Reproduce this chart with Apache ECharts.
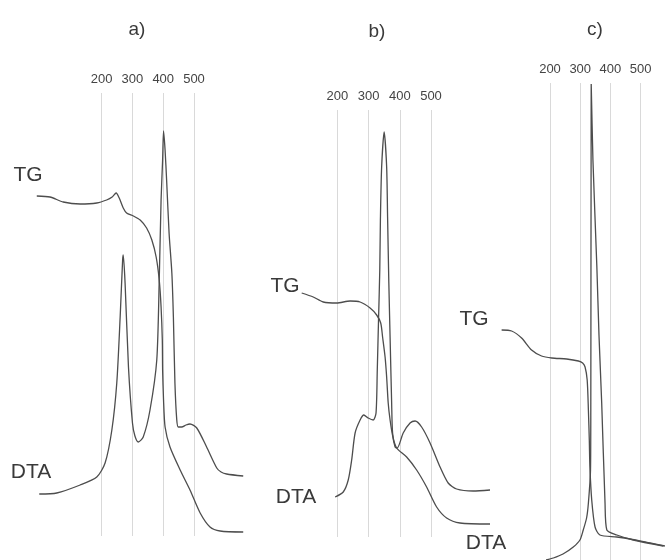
<!DOCTYPE html>
<html>
<head>
<meta charset="utf-8">
<title>TG / DTA</title>
<script src="https://cdn.jsdelivr.net/npm/echarts@6/dist/echarts.min.js"></script>
<style>
  html, body { margin: 0; padding: 0; background: #fff; }
  #chart { width: 665px; height: 560px; }
</style>
</head>
<body>
<div id="chart"></div>
<script>
// Temperature marks (°C) shown above each panel
const tempTicks = [200, 300, 400, 500];
const panelNames = ['a)', 'b)', 'c)'];

// Panel a) — [temperature °C, signal (arb. units)]
const tgA = [[-11,340],[32,339],[75,334],[130,332],[184,333],[216,336],[234,339],[247,343],[257,338],[270,328],[281,323],[303,320],[325,316],[346,308],[363,296],[377,279],[387,256],[393,229],[397,196],[398,166],[401,136],[406,109],[422,89],[455,66],[487,46],[520,23],[552,9],[585,5],[660,4]];
const dtaA = [[-3,42],[54,43],[130,51],[184,59],[211,73],[233,106],[249,153],[260,219],[268,276],[270,281],[276,253],[287,169],[300,113],[308,100],[319,94],[335,99],[357,126],[379,176],[387,256],[393,336],[398,376],[401,405],[406,386],[411,356],[419,303],[428,263],[433,219],[438,153],[444,116],[449,109],[460,109],[474,111],[487,112],[509,108],[541,89],[574,68],[588,64],[606,62],[660,60]];

// Panel b)
const tgB = [[86,244],[123,240],[155,235],[198,234],[241,236],[273,235],[305,229],[326,222],[339,214],[345,200],[353,180],[358,160],[363,134],[369,117],[378,100],[390,89],[422,80],[454,67],[486,50],[518,30],[550,19],[593,14],[689,13]];
const dtaB = [[193,40],[219,45],[235,57],[246,77],[257,104],[273,117],[285,122],[299,119],[315,117],[324,124],[328,167],[332,217],[336,267],[338,317],[342,370],[350,405],[358,370],[361,320],[365,254],[369,200],[374,134],[377,104],[385,90],[392,89],[411,104],[433,114],[449,116],[470,110],[497,94],[529,70],[555,54],[582,48],[635,46],[689,47]];

// Panel c)
const tgC = [[40,230],[73,229],[106,222],[139,210],[172,204],[206,202],[255,201],[294,199],[308,197],[316,193],[323,180],[327,150],[330,120],[332,93],[338,60],[349,33],[365,25],[421,23],[465,21],[531,17],[580,14]];
const dtaC = [[187,0],[211,2],[243,6],[277,13],[299,20],[310,30],[321,42],[327,57],[334,90],[335,157],[335.5,290],[336,410],[336.3,476],[342,400],[355,293],[362,225],[371,157],[382,57],[388,30],[421,25],[476,20],[575,14]];

// Plot frames: pixel position of the 200 °C and 500 °C lines, vertical extent,
// and the temperature span covered by each panel's axis.
const frames = [
  { x200: 101.7, x500: 194.0, top: 93,  height: 443, tMin: -100, tMax: 700 },
  { x200: 337.3, x500: 431.0, top: 110, height: 427, tMin: 0,    tMax: 700 },
  { x200: 550.0, x500: 640.7, top: 83,  height: 477, tMin: 0,    tMax: 580 }
];
const seriesData = [[tgA, dtaA], [tgB, dtaB], [tgC, dtaC]];

const lineColor = '#4d4d4d';
const textColor = '#3a3a3a';
const gridLineColor = '#d9d9d9';
const tickLo = tempTicks[0], tickHi = tempTicks[tempTicks.length - 1];

const chart = echarts.init(document.getElementById('chart'), null, { renderer: 'canvas' });

const grids = frames.map(f => {
  const k = (f.x500 - f.x200) / (tickHi - tickLo);
  return {
    left: f.x200 - (tickLo - f.tMin) * k,
    width: (f.tMax - f.tMin) * k,
    top: f.top, height: f.height,
    containLabel: false, outerBoundsMode: 'none'
  };
});

const xAxes = frames.map((f, i) => {
  // only the 200–500 °C ticks get a visible line and label
  const colors = [];
  for (let t = f.tMin; t <= f.tMax; t += 100) {
    colors.push(t >= tickLo && t <= tickHi ? gridLineColor : 'rgba(0,0,0,0)');
  }
  colors.push('rgba(0,0,0,0)');
  return {
    type: 'value', gridIndex: i, position: 'top',
    min: f.tMin, max: f.tMax, interval: 100,
    axisLine: { show: false }, axisTick: { show: false },
    axisLabel: {
      show: true, fontSize: 13, color: '#444', margin: 7,
      fontFamily: 'Liberation Sans, Arial, sans-serif',
      formatter: v => (tempTicks.indexOf(v) >= 0 ? String(v) : '')
    },
    splitLine: { show: true, lineStyle: { color: colors, width: 1 } }
  };
});

const yAxes = frames.map((f, i) => ({
  type: 'value', gridIndex: i, min: 0, max: f.height, show: false
}));

const series = [];
seriesData.forEach((pair, i) => {
  pair.forEach(d => {
    series.push({
      type: 'line', xAxisIndex: i, yAxisIndex: i, data: d,
      showSymbol: false, symbol: 'none', smooth: 0.25, clip: false,
      lineStyle: { color: lineColor, width: 1.3 }, silent: true, animation: false
    });
  });
});

function label(text, x, y, size) {
  return {
    type: 'text', x: x, y: y,
    style: { text: text, fill: textColor, font: size + 'px "Liberation Sans", Arial, sans-serif', textAlign: 'center', textVerticalAlign: 'middle' }
  };
}

const graphics = [
  label(panelNames[0], 137, 30, 19),
  label(panelNames[1], 377, 32, 19),
  label(panelNames[2], 595, 30, 19),
  label('TG', 28, 175, 21),
  label('DTA', 31, 472, 21),
  label('TG', 285, 286, 21),
  label('DTA', 296, 497, 21),
  label('TG', 474, 319, 21),
  label('DTA', 486, 543, 21)
];

chart.setOption({
  animation: false,
  backgroundColor: '#fff',
  grid: grids,
  xAxis: xAxes,
  yAxis: yAxes,
  series: series,
  graphic: graphics
});
</script>
</body>
</html>
